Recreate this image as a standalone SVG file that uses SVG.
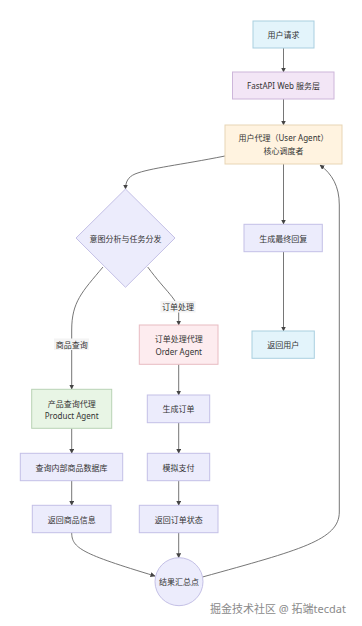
<svg xmlns="http://www.w3.org/2000/svg" width="362" height="626" viewBox="0 0 362 626">
<style>
text{font-family:"Noto Sans","Noto Sans CJK SC",sans-serif;font-size:8px;fill:#333;text-anchor:middle;dominant-baseline:central}
.lav{fill:#ececfc;stroke:#c4c0e6;stroke-width:1}
.blue{fill:#e3f4fb;stroke:#a9cfe0;stroke-width:1}
.pur{fill:#f3e6f6;stroke:#cdb6da;stroke-width:1}
.org{fill:#fff3e0;stroke:#e8d5b5;stroke-width:1}
.pink{fill:#fdecef;stroke:#e8bcc2;stroke-width:1}
.grn{fill:#e8f5e5;stroke:#b8d2b4;stroke-width:1}
.edge{fill:none;stroke:#666;stroke-width:0.9;marker-end:url(#arr)}
.lbl{fill:#f4f4f4}
.wm{font-size:11px;fill:#8a8a8a;text-anchor:start}
</style>
<defs>
<marker id="arr" viewBox="0 0 10 10" refX="9" refY="5" markerWidth="5" markerHeight="5" orient="auto" markerUnits="userSpaceOnUse">
<path d="M0,0 L10,5 L0,10 z" fill="#444"/>
</marker>
</defs>
<rect width="362" height="626" fill="#fff"/>
<g id="connectors">
<path class="edge" d="M283.5,48 L283.5,72"/>
<path class="edge" d="M283.5,99 L283.5,125"/>
<path class="edge" d="M225,156 C180,165 150,168 135,174 C128,177 125.5,182 125.5,189"/>
<path class="edge" d="M283.5,164 L283.5,224"/>
<path class="edge" d="M283.5,252 L283.5,331"/>
<path class="edge" d="M103,267 C82,292 71.7,302 71.7,330 L71.7,389"/>
<path class="edge" d="M147.7,267 C166,292 178.7,300 178.7,312 L178.7,325"/>
<path class="edge" d="M178.7,364.3 L178.7,395"/>
<path class="edge" d="M178.7,422.7 L178.7,453.3"/>
<path class="edge" d="M178.7,480.7 L178.7,505.3"/>
<path class="edge" d="M178.7,532.7 L178.7,557.7"/>
<path class="edge" d="M71.7,428.3 L71.7,453.3"/>
<path class="edge" d="M71.7,480.7 L71.7,505.3"/>
<path class="edge" d="M71.7,532.7 C71.7,548 82,554 155,576"/>
<path class="edge" d="M202.5,577 C300,550 339.3,540 339.3,512 L339.3,205 C339.3,186 332,174 320,165"/>
<rect class="lbl" x="54" y="338.5" width="35" height="11.5"/>
<text x="71.7" y="344.3">商品查询</text>
<rect class="lbl" x="160.5" y="301" width="35" height="11.5"/>
<text x="178" y="306.7">订单处理</text>
</g>
<g id="n_request"><rect class="blue" x="253" y="21" width="61" height="27"/><text x="283.5" y="34.5">用户请求</text></g>
<g id="n_fastapi"><rect class="pur" x="232.5" y="72" width="101.5" height="27"/><text x="283.5" y="85.5">FastAPI Web 服务层</text></g>
<g id="n_useragent"><rect class="org" x="225" y="125" width="117" height="39"/><text x="283.5" y="137.7">用户代理（User Agent）</text><text x="283.5" y="150.7">核心调度者</text></g>
<g id="n_intent"><path class="lav" d="M125.5,189 L175,238 L125.5,287.3 L76,238 Z"/><text x="125.5" y="238">意图分析与任务分发</text></g>
<g id="n_final"><rect class="lav" x="244" y="224.3" width="78.3" height="27.4"/><text x="283.2" y="238">生成最终回复</text></g>
<g id="n_return_user"><rect class="blue" x="252" y="331" width="62.3" height="27.3"/><text x="283.2" y="344.7">返回用户</text></g>
<g id="n_order_agent"><rect class="pink" x="139.3" y="325" width="78.7" height="39.3"/><text x="178.7" y="338.3">订单处理代理</text><text x="178.7" y="351">Order Agent</text></g>
<g id="n_product_agent"><rect class="grn" x="31.7" y="389.3" width="80" height="39"/><text x="71.7" y="403.3">产品查询代理</text><text x="71.7" y="415">Product Agent</text></g>
<g id="n_create_order"><rect class="lav" x="147.3" y="395" width="62.4" height="27.7"/><text x="178.5" y="408.8">生成订单</text></g>
<g id="n_pay"><rect class="lav" x="147.3" y="453.3" width="62.4" height="27.4"/><text x="178.5" y="467">模拟支付</text></g>
<g id="n_order_status"><rect class="lav" x="139.3" y="505.3" width="78.7" height="27.4"/><text x="178.7" y="519">返回订单状态</text></g>
<g id="n_query_db"><rect class="lav" x="20.3" y="453.3" width="102.4" height="27.4"/><text x="71.5" y="467">查询内部商品数据库</text></g>
<g id="n_product_info"><rect class="lav" x="32.3" y="505.3" width="78.7" height="27.4"/><text x="71.7" y="519">返回商品信息</text></g>
<g id="n_merge"><circle class="lav" cx="179" cy="581.7" r="24"/><text x="179" y="581.7">结果汇总点</text></g>
<text class="wm" x="210" y="608">掘金技术社区 @ 拓端tecdat</text>
</svg>
